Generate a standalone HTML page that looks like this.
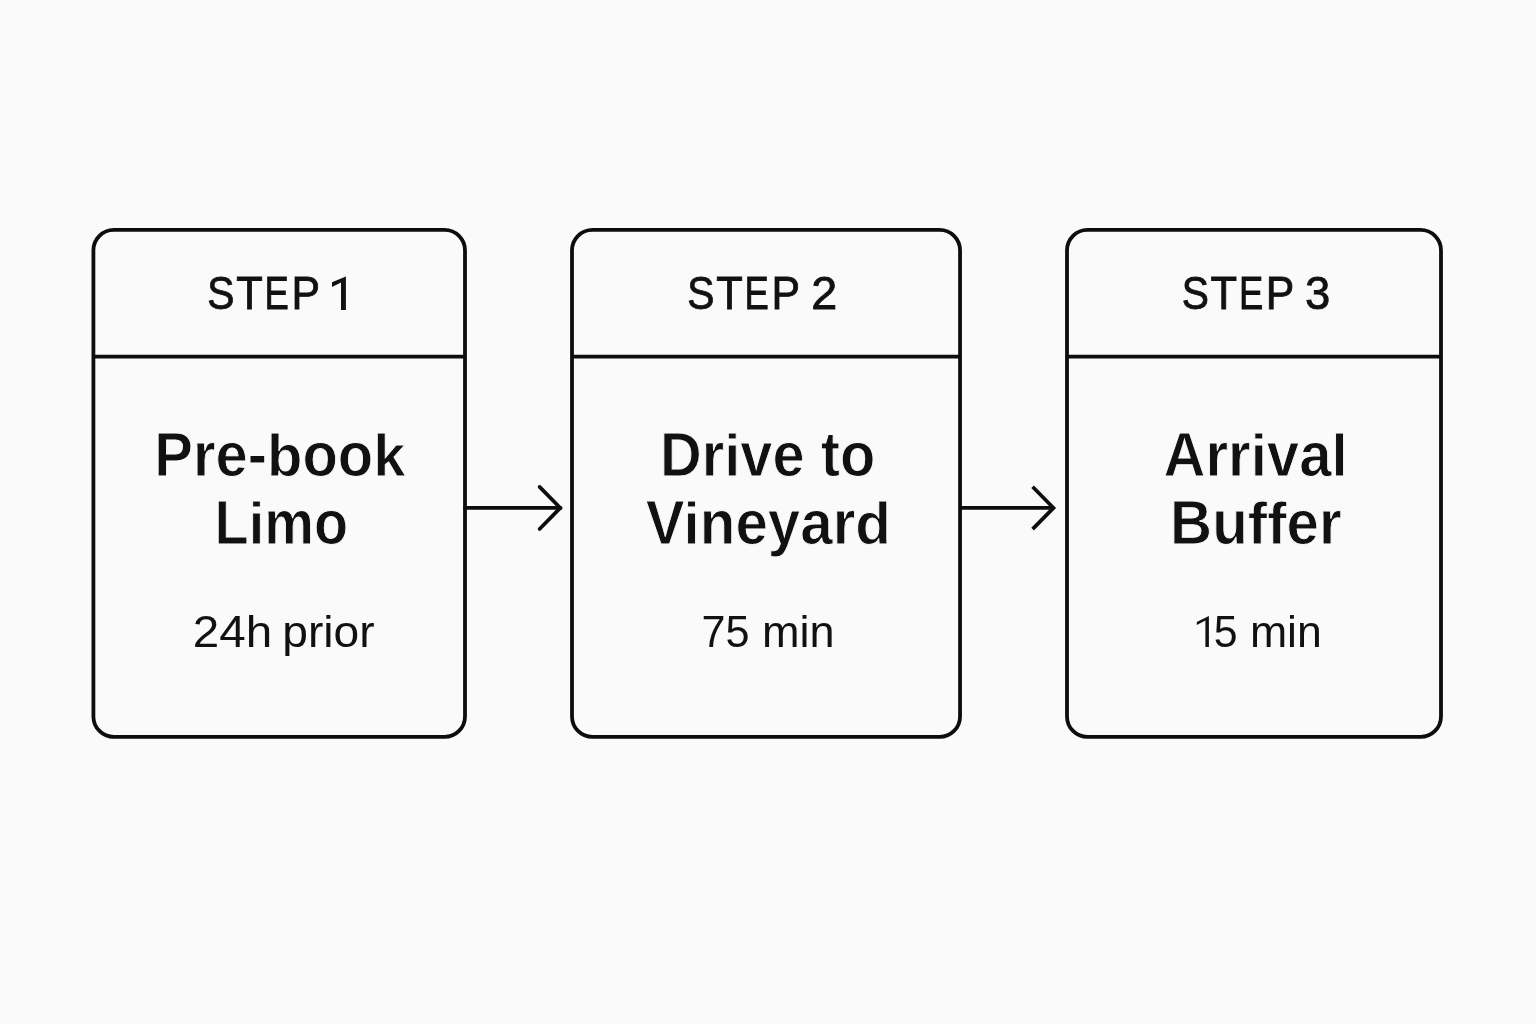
<!DOCTYPE html>
<html>
<head>
<meta charset="utf-8">
<style>
html,body{margin:0;padding:0;background:#fafafa;width:1536px;height:1024px;overflow:hidden;}
svg{position:absolute;left:0;top:0;display:block;will-change:transform;}
text{font-family:"Liberation Sans",sans-serif;}
.st{font-size:44px;font-weight:400;fill:#111;stroke:#111;stroke-width:0.8px;}
.tt{font-size:58px;font-weight:700;fill:#111;stroke:#fafafa;stroke-width:0.9px;}
.sb{font-size:44.5px;font-weight:400;fill:#111;}
</style>
</head>
<body>
<svg width="1536" height="1024" viewBox="0 0 1536 1024">
  <g fill="none" stroke="#0d0d0d" stroke-width="3.8">
  <rect x="93.4" y="229.9" width="371.6" height="507.0" rx="20.5" ry="20.5"/>
  <line x1="93.4" y1="356.7" x2="465.0" y2="356.7"/>
  <rect x="572.0" y="229.9" width="388.05" height="507.0" rx="20.5" ry="20.5"/>
  <line x1="572.0" y1="356.7" x2="960.05" y2="356.7"/>
  <rect x="1067.0" y="229.9" width="374.0" height="507.0" rx="20.5" ry="20.5"/>
  <line x1="1067.0" y1="356.7" x2="1441.0" y2="356.7"/>
  </g>
  <g fill="none" stroke="#0d0d0d" stroke-width="3.7" stroke-linecap="round" stroke-linejoin="miter">
  <line x1="465" y1="507.9" x2="560.3" y2="507.9"/>
  <polyline points="539.6,486.85 560.3,507.9 539.6,528.95"/>
  </g>
  <g fill="none" stroke="#0d0d0d" stroke-width="3.7" stroke-linecap="butt" stroke-linejoin="miter">
  <line x1="960" y1="507.9" x2="1053.5" y2="507.9"/>
  <polyline points="1032.6,486.7 1053.5,507.9 1032.6,529.1"/>
  </g>
  <path d="M332,282.2 L345.9,276.5 L345.9,309.9 L341,309.9 L341,282.6 L332,287.0 Z" fill="#111"/>
  <path d="M1196.8,621.9 L1208.9,615.9 L1208.9,646.9 L1205.4,646.9 L1205.4,620.4 L1196.8,625.0 Z" fill="#111"/>
  <text class="st" transform="translate(207.37 309.47) scale(0.9259 1.0685)">S</text>
  <text class="st" transform="translate(236.13 309.47) scale(0.9885 1.0685)">T</text>
  <text class="st" transform="translate(264.62 309.47) scale(0.8280 1.0685)">E</text>
  <text class="st" transform="translate(291.48 309.47) scale(0.9717 1.0685)">P</text>
  <text class="st" transform="translate(687.37 309.47) scale(0.9259 1.0685)">S</text>
  <text class="st" transform="translate(716.13 309.47) scale(0.9885 1.0685)">T</text>
  <text class="st" transform="translate(744.62 309.47) scale(0.8280 1.0685)">E</text>
  <text class="st" transform="translate(771.48 309.47) scale(0.9717 1.0685)">P</text>
  <text class="st" transform="translate(811.27 309.47) scale(1.0621 1.0685)">2</text>
  <text class="st" transform="translate(1181.67 309.47) scale(0.9259 1.0685)">S</text>
  <text class="st" transform="translate(1210.43 309.47) scale(0.9885 1.0685)">T</text>
  <text class="st" transform="translate(1238.92 309.47) scale(0.8280 1.0685)">E</text>
  <text class="st" transform="translate(1265.78 309.47) scale(0.9717 1.0685)">P</text>
  <text class="st" transform="translate(1305.07 309.47) scale(1.0318 1.0685)">3</text>
  <text class="tt" transform="translate(154.24 476.33) scale(0.9998 1.0717)">P</text>
  <text class="tt" transform="translate(192.91 476.33) scale(0.9998 1.0717)">r</text>
  <text class="tt" transform="translate(215.48 476.33) scale(0.9998 1.0717)">e</text>
  <text class="tt" transform="translate(247.72 476.33) scale(0.9998 1.0717)">-</text>
  <text class="tt" transform="translate(267.05 476.33) scale(0.9998 1.0288)">b</text>
  <text class="tt" transform="translate(302.46 476.33) scale(0.9998 1.0717)">o</text>
  <text class="tt" transform="translate(337.87 476.33) scale(0.9998 1.0717)">o</text>
  <text class="tt" transform="translate(373.30 476.33) scale(0.9998 1.0288)">k</text>
  <text class="tt" transform="translate(214.59 544.08) scale(0.9630 1.0717)">L</text>
  <text class="tt" transform="translate(248.70 544.08) scale(0.9630 1.0288)">i</text>
  <text class="tt" transform="translate(264.21 544.08) scale(0.9630 1.0717)">m</text>
  <text class="tt" transform="translate(313.88 544.08) scale(0.9630 1.0717)">o</text>
  <text class="tt" transform="translate(659.95 476.33) scale(0.9970 1.0717)">D</text>
  <text class="tt" transform="translate(701.70 476.33) scale(0.9970 1.0717)">r</text>
  <text class="tt" transform="translate(724.21 476.33) scale(0.9970 1.0288)">i</text>
  <text class="tt" transform="translate(740.28 476.33) scale(0.9970 1.0717)">v</text>
  <text class="tt" transform="translate(772.44 476.33) scale(0.9970 1.0717)">e</text>
  <text class="tt" transform="translate(820.66 476.33) scale(0.9970 1.0717)">t</text>
  <text class="tt" transform="translate(839.91 476.33) scale(0.9970 1.0717)">o</text>
  <text class="tt" transform="translate(645.76 544.08) scale(1.0050 1.0717)">V</text>
  <text class="tt" transform="translate(683.58 544.08) scale(1.0050 1.0288)">i</text>
  <text class="tt" transform="translate(699.78 544.08) scale(1.0050 1.0717)">n</text>
  <text class="tt" transform="translate(735.38 544.08) scale(1.0050 1.0717)">e</text>
  <text class="tt" transform="translate(767.81 544.08) scale(1.0050 1.0717)">y</text>
  <text class="tt" transform="translate(800.22 544.08) scale(1.0050 1.0717)">a</text>
  <text class="tt" transform="translate(832.63 544.08) scale(1.0050 1.0717)">r</text>
  <text class="tt" transform="translate(855.32 544.08) scale(1.0050 1.0288)">d</text>
  <text class="tt" transform="translate(1163.42 476.33) scale(1.0027 1.0717)">A</text>
  <text class="tt" transform="translate(1205.41 476.33) scale(1.0027 1.0717)">r</text>
  <text class="tt" transform="translate(1228.05 476.33) scale(1.0027 1.0717)">r</text>
  <text class="tt" transform="translate(1250.67 476.33) scale(1.0027 1.0288)">i</text>
  <text class="tt" transform="translate(1266.84 476.33) scale(1.0027 1.0717)">v</text>
  <text class="tt" transform="translate(1299.17 476.33) scale(1.0027 1.0717)">a</text>
  <text class="tt" transform="translate(1331.53 476.33) scale(1.0027 1.0288)">l</text>
  <text class="tt" transform="translate(1170.12 544.08) scale(1.0046 1.0717)">B</text>
  <text class="tt" transform="translate(1212.19 544.08) scale(1.0046 1.0717)">u</text>
  <text class="tt" transform="translate(1247.79 544.08) scale(1.0046 1.0288)">f</text>
  <text class="tt" transform="translate(1267.19 544.08) scale(1.0046 1.0288)">f</text>
  <text class="tt" transform="translate(1286.60 544.08) scale(1.0046 1.0717)">e</text>
  <text class="tt" transform="translate(1318.99 544.08) scale(1.0046 1.0717)">r</text>
  <text class="sb" transform="translate(192.86 646.90) scale(1.0698 1.0125)">24h</text>
  <text class="sb" transform="translate(282.29 646.90) scale(1.0371 1.0125)">prior</text>
  <text class="sb" transform="translate(701.56 646.90) scale(0.9696 1.0125)">75</text>
  <text class="sb" transform="translate(762.01 646.90) scale(1.0129 1.0125)">min</text>
  <text class="sb" transform="translate(1213.87 646.90) scale(0.9621 1.0125)">5</text>
  <text class="sb" transform="translate(1249.89 646.90) scale(1.0030 1.0125)">min</text>
</svg>
</body>
</html>
